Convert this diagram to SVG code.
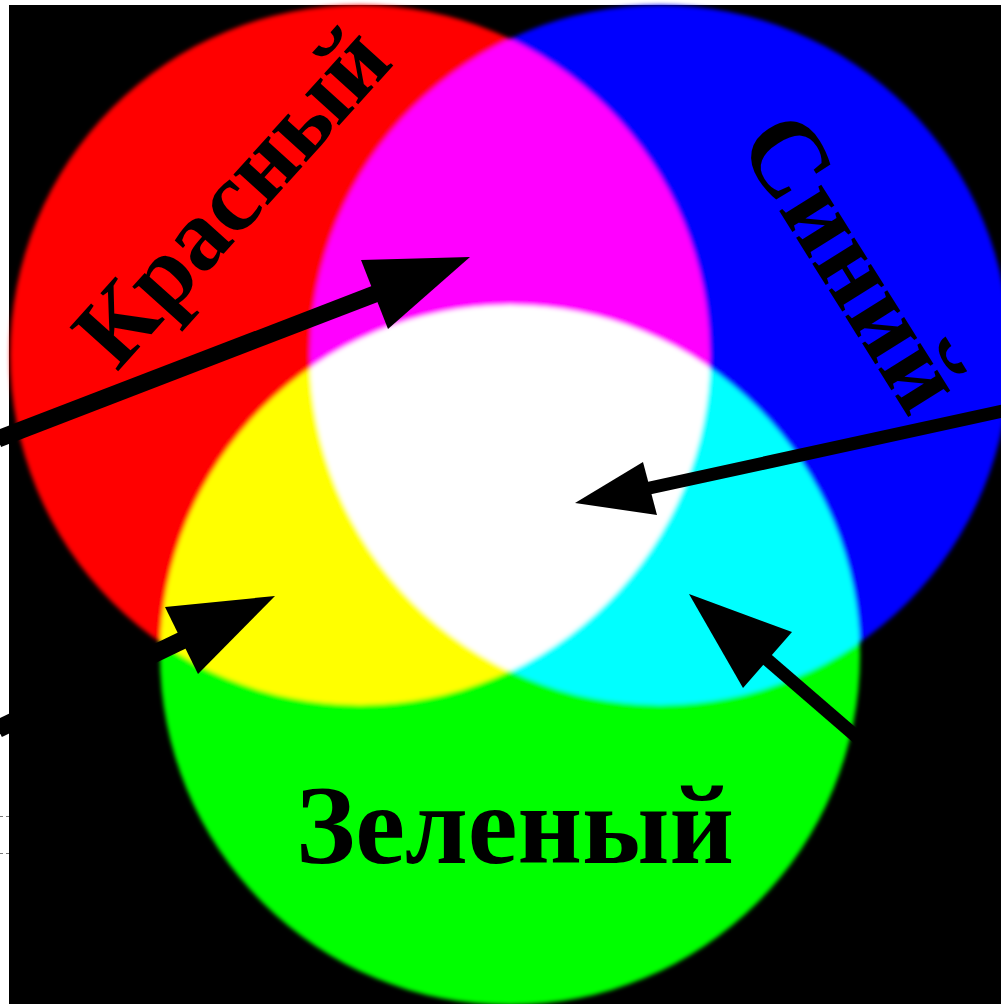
<svg xmlns="http://www.w3.org/2000/svg" width="1001" height="1004" viewBox="0 0 1001 1004">
<defs>
<style>
.lbl{font-family:"Liberation Serif","Times New Roman",serif;font-weight:bold;fill:#000}
.shaft{stroke:#000;fill:none;stroke-linecap:butt}
.head{fill:#000;stroke:none}
.circ{mix-blend-mode:screen}
.dash{stroke:#777;stroke-width:1;stroke-dasharray:3 3}
</style>
<filter id="soft" x="-5%" y="-5%" width="110%" height="110%"><feGaussianBlur stdDeviation="2"/></filter>
</defs>
<rect x="0" y="0" width="1001" height="1004" fill="#fff"/>
<rect x="9" y="5" width="992" height="999" fill="#000"/>
<g id="circles" filter="url(#soft)" style="isolation:isolate">
<circle id="red" class="circ" cx="360" cy="355" r="350" fill="#ff0000"/>
<circle id="blue" class="circ" cx="660" cy="355" r="350" fill="#0000ff"/>
<circle id="green" class="circ" cx="510" cy="655" r="350" fill="#00ff00"/>
</g>
<g id="labels">
<text id="label-red" class="lbl" font-size="100" text-anchor="middle" transform="translate(256,218) rotate(-48)">Красный</text>
<text id="label-blue" class="lbl" font-size="108" text-anchor="middle" transform="translate(823,281) rotate(58)">Синий</text>
<text id="label-green" class="lbl" font-size="112" text-anchor="middle" x="515" y="863">Зеленый</text>
</g>
<g id="connectors">
<line class="shaft" x1="-2" y1="439" x2="380" y2="292" stroke-width="17"/>
<polygon class="head" points="470,257 361,260 388,329"/>
<line class="shaft" x1="-2" y1="729" x2="185" y2="639" stroke-width="18"/>
<polygon class="head" points="275,596 165,607 198,674"/>
<line class="shaft" x1="1003" y1="411" x2="645" y2="489" stroke-width="13"/>
<polygon class="head" points="575,503 643,462 657,515"/>
<line class="shaft" x1="858" y1="738" x2="763" y2="656" stroke-width="13"/>
<polygon class="head" points="689,594 792,632 743,688"/>
</g>
<line class="dash" x1="0" y1="816.5" x2="9" y2="816.5"/>
<line class="dash" x1="0" y1="853.5" x2="9" y2="853.5"/>
</svg>
